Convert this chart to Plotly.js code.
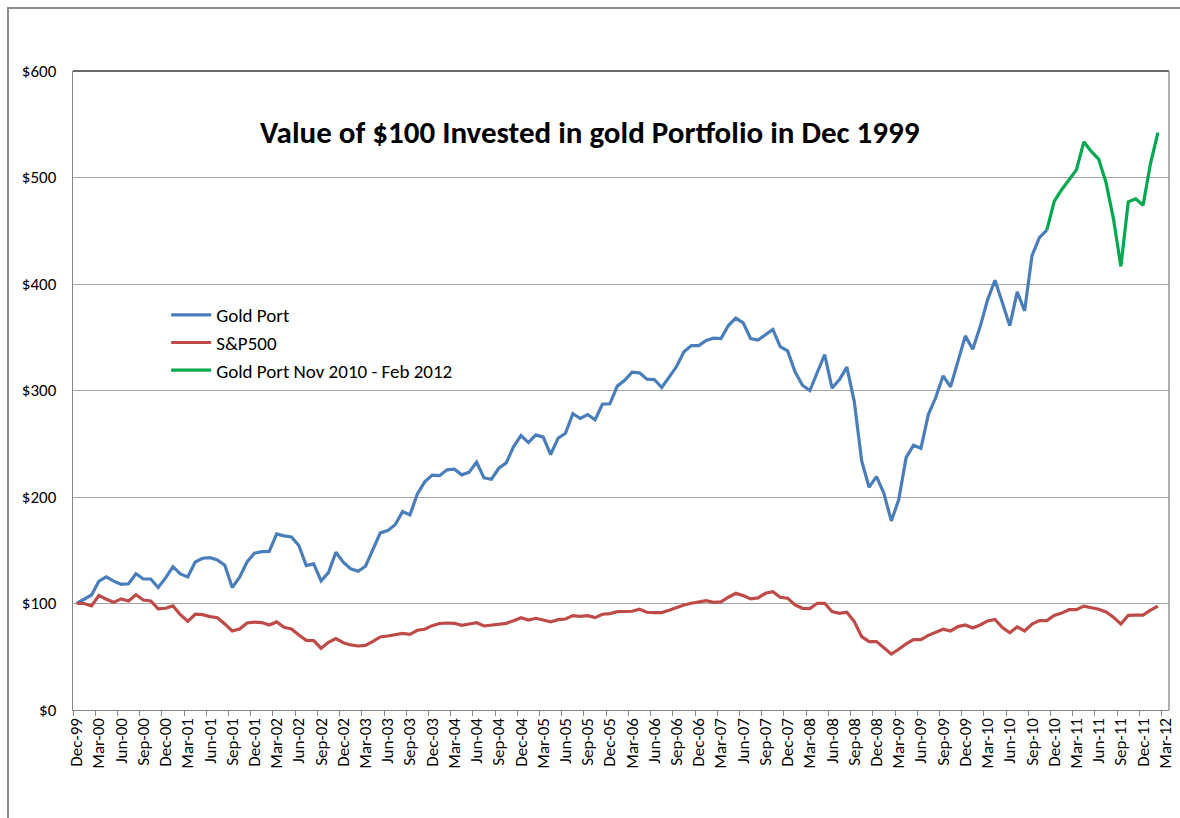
<!DOCTYPE html>
<html>
<head>
<meta charset="utf-8">
<script src="https://cdn.plot.ly/plotly-3.0.1.min.js"></script>
<style>
  html, body { margin: 0; padding: 0; background: #fff; overflow: hidden; }
  #chart { width: 1180px; height: 818px; }
  #frame { position: absolute; left: 7px; top: 7px; width: 1400px; height: 1200px;
           border: 2px solid #8c8c8c; pointer-events: none; }
</style>
</head>
<body>
<div id="chart"></div>
<div id="frame"></div>
<script>
// Monthly values, Dec-99 (index 0) through Feb-12 (index 146)
const goldPort = [
  100, 104.3, 108, 121, 125, 121, 118, 118.5, 128, 123, 123, 115,
  124, 134.6, 127.8, 125, 139, 142.5, 143, 141, 136, 115, 124.6, 139,
  147.2, 148.7, 149, 165.3, 163.5, 162.5, 154.4, 135.6, 137.2, 121.2, 129, 148.1,
  138.7, 132.5, 130.3, 135, 150.3, 166.3, 168.4, 174, 186.3, 183.2, 202.9, 214.2,
  220.5, 220, 225.5, 226.1, 220.8, 223.3, 232.7, 218, 216.7, 227, 232, 247.4,
  257.7, 251.1, 258.3, 256.2, 239.9, 255.2, 259.9, 278.3, 273.7, 277.4, 272.4, 287.2,
  287.5, 304.1, 309.5, 317.2, 316.6, 310.6, 310.3, 302.8, 312.5, 322.5, 336.3, 342.2,
  342.2, 346.9, 349.1, 348.8, 361, 368, 363.5, 348.8, 347.3, 352.6, 357.3, 341.3,
  337.2, 317.5, 305, 300, 317.8, 333.8, 302.2, 310.3, 321.9, 289.6, 233.9, 209.2,
  219.2, 203.6, 177.5, 197.3, 237, 248.6, 245.8, 277.4, 293.4, 313.8, 303.4, 326.9,
  351.3, 338.8, 360, 385.1, 403.5, 382.5, 360.8, 392.6, 374.8, 426.6, 443.5, 450.6
];
const sp500 = [
  100, 100, 97.7, 107.4, 104, 101.1, 104.3, 102.4, 108.3, 103.3, 102.4, 94.9,
  95.5, 97.7, 89.5, 83.3, 89.9, 89.5, 87.7, 86.7, 80.8, 74.2, 76.1, 81.7,
  82.5, 82.1, 79.8, 82.7, 77.7, 76.1, 70.5, 65.4, 65.2, 58, 63.6, 67,
  63.2, 61.1, 60.1, 60.7, 64.5, 68.6, 69.5, 70.5, 72, 71.1, 74.9, 75.8,
  79.2, 81.2, 81.7, 81.4, 79.5, 80.8, 82, 78.9, 79.8, 80.8, 81.4, 83.9,
  86.7, 84.5, 86.1, 84.5, 82.7, 84.8, 85.4, 88.6, 88, 88.6, 86.7, 89.9,
  90.5, 92.4, 92.5, 92.7, 94.6, 91.8, 91.5, 91.5, 93.6, 96.1, 98.6, 100.2,
  101.5, 102.7, 101.1, 101.5, 105.9, 109.6, 107.4, 104.3, 105.2, 109.6, 111.1, 105.9,
  105, 98.6, 95.5, 95.2, 100.2, 100.2, 92.4, 90.8, 91.8, 83, 68.9, 64.2,
  64.2, 58.5, 52.6, 57, 62, 66, 66, 70.1, 72.6, 75.8, 74.2, 78.3,
  79.8, 77, 79.8, 83.6, 85, 77.4, 72.5, 78.1, 74.2, 80.7, 83.9, 83.9,
  88.8, 91, 94.2, 94.2, 97.5, 96.2, 94.6, 92, 87.2, 80.7, 88.8, 89.1,
  89.1, 93.7, 97.5
];
// Gold Port Nov 2010 (index 131) - Feb 2012 (index 146)
const greenStart = 131;
const goldRecent = [450.6, 477.5, 488.5, 498.4, 507.2, 533.5, 524.5, 517.3,
                    495.2, 461.2, 416.5, 477.2, 480, 473.9, 513.1, 542.2];
const tickLabels = [
  'Dec-99','Mar-00','Jun-00','Sep-00','Dec-00','Mar-01','Jun-01','Sep-01','Dec-01',
  'Mar-02','Jun-02','Sep-02','Dec-02','Mar-03','Jun-03','Sep-03','Dec-03',
  'Mar-04','Jun-04','Sep-04','Dec-04','Mar-05','Jun-05','Sep-05','Dec-05',
  'Mar-06','Jun-06','Sep-06','Dec-06','Mar-07','Jun-07','Sep-07','Dec-07',
  'Mar-08','Jun-08','Sep-08','Dec-08','Mar-09','Jun-09','Sep-09','Dec-09',
  'Mar-10','Jun-10','Sep-10','Dec-10','Mar-11','Jun-11','Sep-11','Dec-11','Mar-12'
];
const yTicks = [0, 100, 200, 300, 400, 500, 600];
const yTickLabels = ['$0', '$100', '$200', '$300', '$400', '$500', '$600'];
const seriesNames = ['Gold Port', 'S&P500', 'Gold Port Nov 2010 - Feb 2012'];
const seriesColors = ['#4A7EBB', '#BE4B48', '#00A84F'];

const idx = arr => arr.map((_, i) => i);
const tickPos = tickLabels.map((_, k) => k * 3);

const traces = [
  { x: idx(goldPort), y: goldPort, name: seriesNames[0], type: 'scatter', mode: 'lines',
    line: { color: seriesColors[0], width: 3.2 } },
  { x: idx(sp500), y: sp500, name: seriesNames[1], type: 'scatter', mode: 'lines',
    line: { color: seriesColors[1], width: 3.2 } },
  { x: goldRecent.map((_, i) => greenStart + i), y: goldRecent, name: seriesNames[2],
    type: 'scatter', mode: 'lines', line: { color: seriesColors[2], width: 3.2 } }
];

const font = "Carlito, 'Noto Sans', 'Open Sans', sans-serif";

const layout = {
  width: 1180, height: 818,
  margin: { l: 73, r: 11, t: 71, b: 108 },
  paper_bgcolor: '#fff', plot_bgcolor: '#fff',
  font: { family: font, color: '#000' },
  showlegend: true,
  legend: { x: 0.085, y: 0.648, xanchor: 'left', yanchor: 'top',
            bgcolor: 'rgba(0,0,0,0)', font: { size: 19, family: font },
            tracegroupgap: 0, itemwidth: 40 },
  xaxis: {
    range: [-0.5, 147.5], showgrid: false, zeroline: false,
    tickmode: 'array', tickvals: tickPos, ticktext: tickLabels,
    tickangle: -90, ticks: '', tickfont: { size: 17, family: font },
    showline: true, linecolor: '#868686', linewidth: 1.3,
    minor: { tick0: -0.5, dtick: 3, ticks: 'outside', ticklen: 5, tickcolor: '#868686', tickwidth: 1 }
  },
  yaxis: {
    range: [0, 600], tickmode: 'array', tickvals: yTicks, ticktext: yTickLabels,
    showgrid: true, gridcolor: '#a6a6a6', gridwidth: 1, zeroline: false,
    showline: true, linecolor: '#868686', linewidth: 1.3,
    ticks: '', ticklabelstandoff: 12, tickfont: { size: 17, family: font }
  },
  shapes: [
    { type: 'line', xref: 'paper', yref: 'paper', x0: 0, x1: 1, y0: 1, y1: 1,
      line: { color: '#3a3a3a', width: 1.5 } },
    { type: 'line', xref: 'paper', yref: 'paper', x0: 1, x1: 1, y0: 0, y1: 1,
      line: { color: '#868686', width: 1.3 } }
  ],
  annotations: [
    { text: '<b>Value of $100 Invested in gold Portfolio in Dec 1999</b>',
      xref: 'paper', yref: 'paper', x: 0.472, y: 0.905, showarrow: false,
      xanchor: 'center', yanchor: 'middle', font: { size: 31, family: font, color: '#000' } }
  ]
};

Plotly.newPlot('chart', traces, layout, { displayModeBar: false, staticPlot: true });
</script>
</body>
</html>
